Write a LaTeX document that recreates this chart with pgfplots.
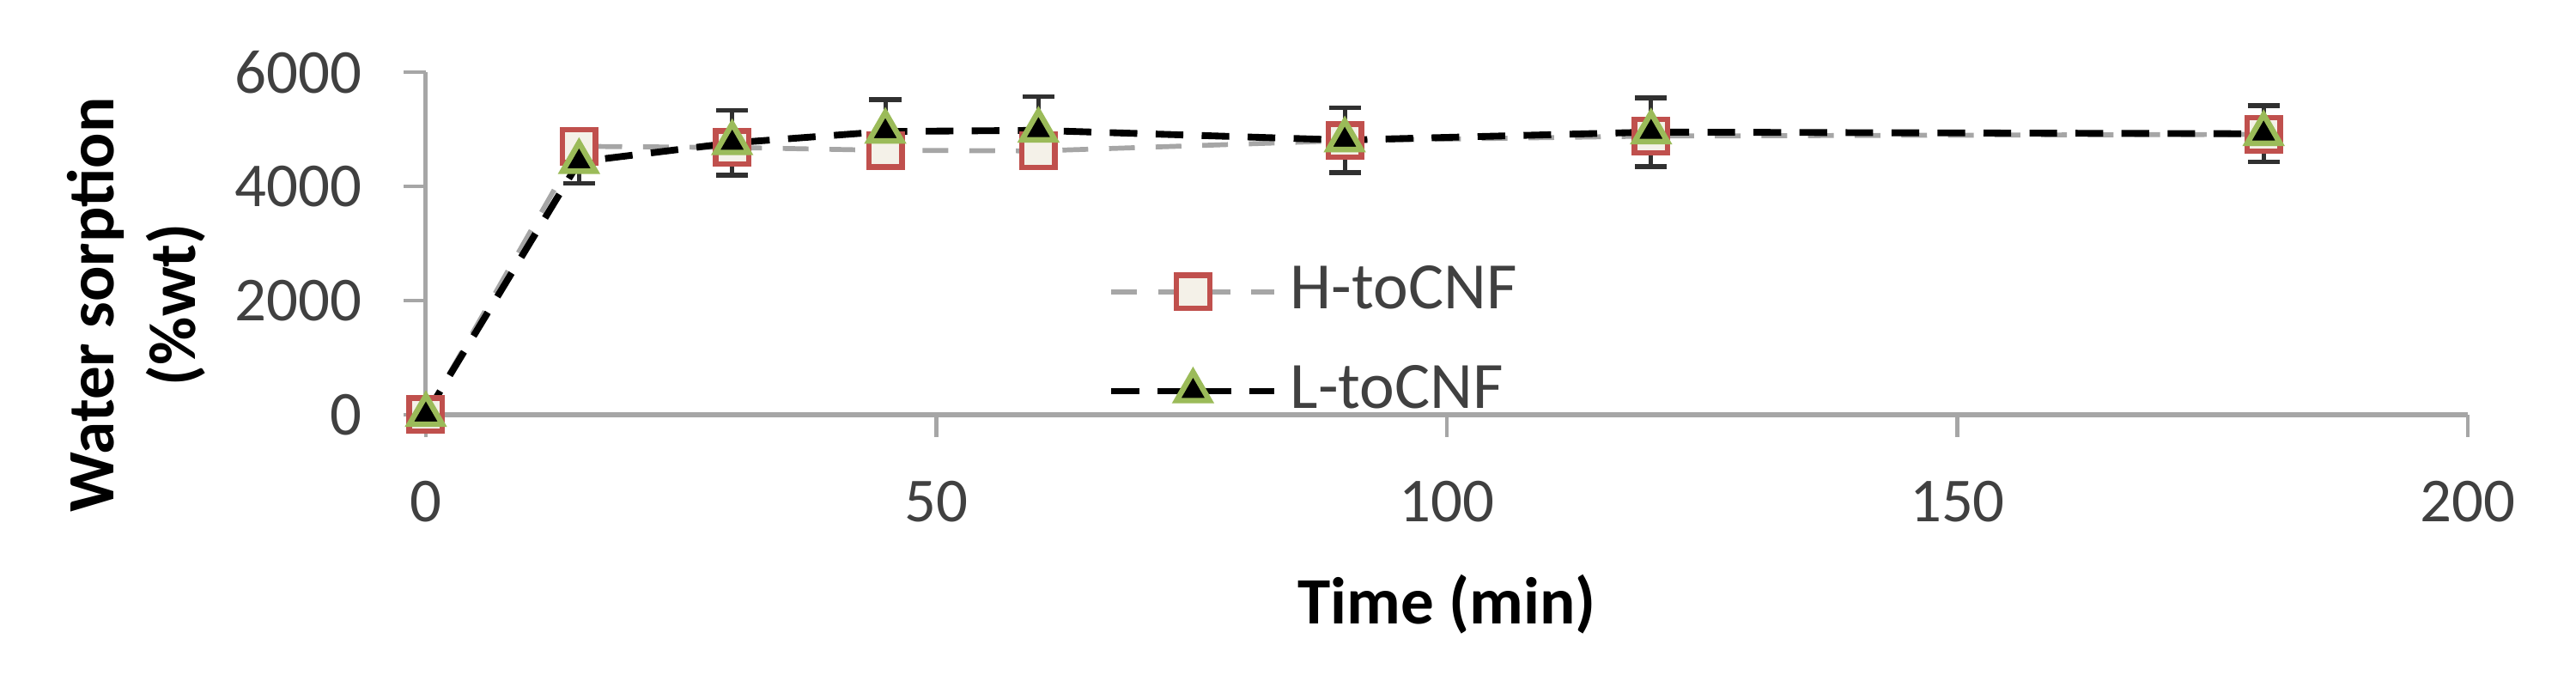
\documentclass[border=0pt]{standalone}
\usepackage{fontspec}
\setmainfont{Carlito}
\usepackage{pgfplots}
\pgfplotsset{compat=1.18}
\usetikzlibrary{calc}
\definecolor{hred}{HTML}{C0504D}
\definecolor{hfill}{HTML}{F4F1E8}
\definecolor{lgreen}{HTML}{9BBB59}
\definecolor{axgrey}{HTML}{A6A6A6}
\definecolor{hline}{HTML}{A6A6A6}
\definecolor{ticktext}{HTML}{404040}
\definecolor{errgrey}{HTML}{303030}
\begin{document}
\begin{tikzpicture}
\begin{axis}[name=ax, at={(0,0)}, anchor=south west,
  scale only axis, width=332.92pt, height=55.86pt,
  xmin=0, xmax=200, ymin=0, ymax=6000,
  xtick={0,50,100,150,200}, ytick={0,2000,4000,6000},
  axis x line=bottom, axis y line=left,
  axis line style={-, draw=axgrey, line width=0.7pt},
  x axis line style={line width=0.9pt},
  tick align=outside, major tick length=3.6pt,
  tick style={draw=axgrey, line width=0.6pt},
  clip=false,
  scaled ticks=false,
  /pgf/number format/1000 sep={},
  /pgf/number format/assume math mode=true,
  ticklabel style={font=\fontsize{10.2}{12}\selectfont, text=ticktext, inner sep=0pt},
  xticklabel style={anchor=center, yshift=-10.5pt},
  yticklabel style={anchor=east, xshift=-6.6pt},
  xlabel={Time (min)},
  ylabel={Water sorption\\(\%wt)},
  xlabel style={font=\bfseries\fontsize{10.8}{13}\selectfont, at={(rel axis cs:0.5,-0.554)}, anchor=center},
  ylabel style={font=\bfseries\fontsize{10.8}{13.3}\selectfont, align=center, at={(rel axis cs:-0.1417,0.321)}, anchor=center},
  legend style={draw=none, fill=none, at={(rel axis cs:0.3245,0.214)}, anchor=west,
    font=\fontsize{10.8}{13}\selectfont, text=ticktext, row sep=3.7pt},
  legend cell align=left,
  legend image code/.code={\draw[mark repeat=2, mark phase=2, #1] plot coordinates {(0pt,0pt) (13.3pt,0pt) (26.6pt,0pt)};},
]
\addplot[hline, line width=0.8pt, dash pattern=on 4.2pt off 3.4pt,
  mark=square*, mark size=2.7pt, mark options={solid, draw=hred, fill=hfill, line width=0.9pt}]
  coordinates {(0,0) (15,4700) (30,4680) (45,4630) (60,4620) (90,4800) (120,4880) (180,4910)};
\addlegendentry{H-toCNF}
\addplot[black, line width=1.1pt, dash pattern=on 4.5pt off 3pt,
  mark=triangle*, mark size=3.1pt, mark options={solid, draw=lgreen, fill=black, line width=0.9pt},
  error bars/.cd, y dir=both, y explicit,
  error bar style={solid, line width=0.7pt, draw=errgrey},
  error mark options={solid, rotate=90, line width=0.8pt, mark size=2.6pt, draw=errgrey}]
  table[x=x, y=y, y error=e] {
x y e
0 0 0
15 4430 380
30 4760 570
45 4960 560
60 4980 590
90 4810 565
120 4950 600
180 4920 490
};
\addlegendentry{L-toCNF}
\end{axis}
\pgfresetboundingbox
\path ($(ax.south west)+(-69.44pt,-45.36pt)$) rectangle ($(ax.north east)+(17.64pt,11.76pt)$);
\end{tikzpicture}
\end{document}
